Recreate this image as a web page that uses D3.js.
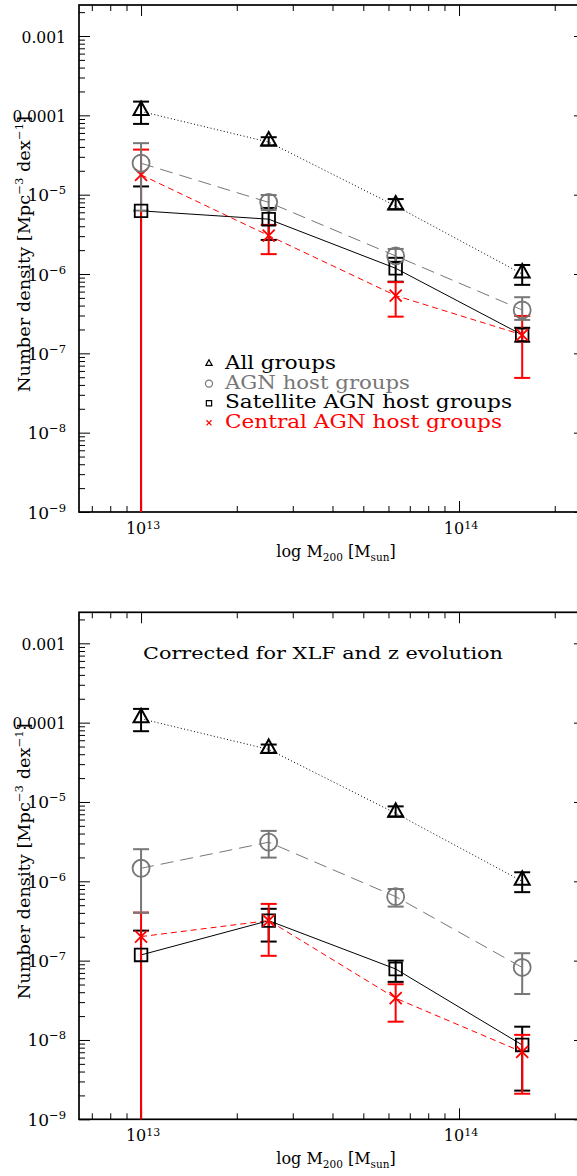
<!DOCTYPE html>
<html>
<head>
<meta charset="utf-8">
<script src="https://cdn.jsdelivr.net/npm/d3@7"></script>
<style>
  body { margin: 0; background: #fff; }
  svg { display: block; }
  text { font-family: "DejaVu Serif", serif; }
</style>
</head>
<body>
<svg id="fig" width="577" height="1176"></svg>
<script>
// ---- data -------------------------------------------------------------
// halo-mass bin centres (M_sun)
const massBins = [1.0e13, 2.52e13, 6.32e13, 1.58e14];

// all groups (same in both panels)
const allGroups   = [1.12e-4, 4.6e-5, 7.2e-6, 1.0e-6];
const allGroupsLo = [7.8e-5, 4.16e-5, 6.56e-6, 7.3e-7];
const allGroupsHi = [1.49e-4, 5.3e-5, 8.8e-6, 1.30e-6];

// upper panel: observed number densities (0 = error reaches the floor)
const agnHost     = [2.49e-5, 8.0e-6, 1.69e-6, 3.52e-7];
const agnHostLo   = [6.3e-6, 6.4e-6, 1.43e-6, 2.64e-7];
const agnHostHi   = [4.46e-5, 9.9e-6, 2.07e-6, 5.1e-7];
const satHost     = [6.25e-6, 4.91e-6, 1.18e-6, 1.71e-7];
const satHostLo   = [0, 2.69e-6, 8.0e-7, 1.4e-7];
const satHostHi   = [1.27e-5, 6.8e-6, 1.6e-6, 2.1e-7];
const cenHost     = [1.78e-5, 3.05e-6, 5.35e-7, 1.71e-7];
const cenHostLo   = [0, 1.78e-6, 2.9e-7, 4.9e-8];
const cenHostHi   = [3.7e-5, 4.16e-6, 7.9e-7, 2.96e-7];

// lower panel: corrected for XLF and z evolution
const agnHostCorr   = [1.46e-6, 3.11e-6, 6.41e-7, 8.2e-8];
const agnHostCorrLo = [4.03e-7, 1.99e-6, 4.8e-7, 3.8e-8];
const agnHostCorrHi = [2.54e-6, 4.32e-6, 8.0e-7, 1.24e-7];
const satHostCorr   = [1.18e-7, 3.19e-7, 7.85e-8, 8.65e-9];
const satHostCorrLo = [0, 1.74e-7, 5.4e-8, 2.3e-9];
const satHostCorrHi = [2.39e-7, 4.5e-7, 1.0e-7, 1.47e-8];
const cenHostCorr   = [2.01e-7, 3.2e-7, 3.36e-8, 7.06e-9];
const cenHostCorrLo = [0, 1.15e-7, 1.70e-8, 2.1e-9];
const cenHostCorrHi = [4.03e-7, 5.19e-7, 5.04e-8, 1.16e-8];

// axes
const xDomain = [6.38e12, 2.49e14];
const yDomain = [1e-9, 2.46e-3];
const xTickValues = [1e13, 1e14];
const xTickText   = ["10^13", "10^14"];
const yTickValues = [1e-3, 1e-4, 1e-5, 1e-6, 1e-7, 1e-8, 1e-9];
const yTickText   = ["0.001", "0.0001", "10^−5", "10^−6", "10^−7", "10^−8", "10^−9"];

const legendNames = ["All groups", "AGN host groups", "Satellite AGN host groups", "Central AGN host groups"];
const legendWidths = [111, 185, 287, 277];

// ---- styles -----------------------------------------------------------
const GRAY = "#777777", RED = "#ff0000", BLACK = "#000000";
const styles = {
  all: { color: BLACK, dash: "1,2.4", sym: "tri" },
  agn: { color: GRAY,  dash: "13,7",  sym: "circ" },
  sat: { color: BLACK, dash: null,    sym: "sq" },
  cen: { color: RED,   dash: "6,4",   sym: "x" }
};

const svg = d3.select("#fig");
const frame = { left: 79, right: 585, top: 5, bottom: 512 };

function symbolPath(sym, s) {
  if (sym === "tri") return `M0,${-10*s}L${7.5*s},${3.5*s}L${-7.5*s},${3.5*s}Z`;
  if (sym === "sq")  return `M${-6.3*s},${-6.3*s}h${12.6*s}v${12.6*s}h${-12.6*s}Z`;
  if (sym === "x")   return `M${-6*s},${-6*s}L${6*s},${6*s}M${6*s},${-6*s}L${-6*s},${6*s}`;
  return null;
}

function drawMarker(g, sym, color, cx, cy, s, sw) {
  if (sym === "circ") {
    g.append("circle").attr("cx", cx).attr("cy", cy).attr("r", 8.5 * s)
      .attr("fill", "none").attr("stroke", color).attr("stroke-width", sw);
  } else {
    g.append("path").attr("d", symbolPath(sym, s))
      .attr("transform", `translate(${cx},${cy})`)
      .attr("fill", "none").attr("stroke", color).attr("stroke-width", sw)
      .attr("stroke-linejoin", "miter");
  }
}

function supText(sel, str, baseSize, supSize, shift) {
  const parts = str.split("^");
  sel.append("tspan").attr("font-size", baseSize).text(parts[0]);
  if (parts[1]) sel.append("tspan").attr("font-size", supSize).attr("dy", -shift).text(parts[1]);
}

function drawPanel(shift, series, note, legend) {
  const g = svg.append("g").attr("transform", `translate(0,${shift})`);
  const x = d3.scaleLog().domain(xDomain).range([frame.left, frame.right]);
  const y = d3.scaleLog().domain(yDomain).range([frame.bottom, frame.top]);
  const yPos = v => (v > 0 ? y(v) : frame.bottom);

  // tick marks on all four sides, pointing inward
  const xMinor = x.ticks().filter(v => !xTickValues.some(m => Math.abs(v / m - 1) < 1e-6));
  const yMinor = y.ticks().filter(v => !yTickValues.some(m => Math.abs(v / m - 1) < 1e-6));
  const axes = [
    [d3.axisBottom(x), `translate(0,${frame.bottom})`, xTickValues, xMinor],
    [d3.axisTop(x),    `translate(0,${frame.top})`,    xTickValues, xMinor],
    [d3.axisLeft(y),   `translate(${frame.left},0)`,   yTickValues, yMinor],
    [d3.axisRight(y),  `translate(${frame.right},0)`,  yTickValues, yMinor]
  ];
  axes.forEach(([ax, tr, major, minor]) => {
    [[major, -11], [minor, -6]].forEach(([vals, len]) => {
      g.append("g").attr("transform", tr)
        .call(ax.tickValues(vals).tickSizeInner(len).tickSizeOuter(0).tickFormat(""))
        .call(a => a.select(".domain").remove())
        .selectAll("line").attr("stroke", BLACK).attr("stroke-width", 1);
    });
  });

  // frame
  g.append("rect").attr("x", frame.left).attr("y", frame.top)
    .attr("width", frame.right - frame.left).attr("height", frame.bottom - frame.top)
    .attr("fill", "none").attr("stroke", BLACK).attr("stroke-width", 1.7);

  // tick labels
  yTickValues.forEach((v, i) => {
    const t = g.append("text").attr("x", 66).attr("y", y(v) + 6.5)
      .attr("text-anchor", "end").attr("fill", BLACK);
    if (yTickText[i].includes("^")) {
      supText(t, yTickText[i], 17, 11.5, 7);
    } else {
      t.attr("font-size", 17).attr("textLength", yTickText[i].length * 9.1 - 1)
        .attr("lengthAdjust", "spacingAndGlyphs").text(yTickText[i]);
    }
  });
  xTickValues.forEach((v, i) => {
    const t = g.append("text").attr("x", x(v) + 2).attr("y", frame.bottom + 22)
      .attr("text-anchor", "middle").attr("fill", BLACK);
    supText(t, xTickText[i], 16, 11, 5.5);
  });

  // axis titles
  const xt = g.append("text").attr("x", 336).attr("y", frame.bottom + 45)
    .attr("text-anchor", "middle").attr("font-size", 16).attr("fill", BLACK);
  xt.append("tspan").text("log  M");
  xt.append("tspan").attr("font-size", 10.5).attr("dy", 4).text("200");
  xt.append("tspan").attr("dy", -4).text("  [M");
  xt.append("tspan").attr("font-size", 10.5).attr("dy", 4).text("sun");
  xt.append("tspan").attr("dy", -4).text("]");

  const yt = g.append("text").attr("transform", "translate(30,254) rotate(-90)")
    .attr("text-anchor", "middle").attr("font-size", 16).attr("fill", BLACK)
    .attr("textLength", 276).attr("lengthAdjust", "spacingAndGlyphs");
  yt.append("tspan").text("Number density [Mpc");
  yt.append("tspan").attr("font-size", 10.5).attr("dy", -7).text("−3");
  yt.append("tspan").attr("dy", 7).text(" dex");
  yt.append("tspan").attr("font-size", 10.5).attr("dy", -7).text("−1");
  yt.append("tspan").attr("dy", 7).text("]");

  // connecting lines
  const line = d3.line().x(d => x(d[0])).y(d => y(d[1]));
  series.forEach(s => {
    const st = styles[s.key];
    g.append("path").datum(massBins.map((m, i) => [m, s.v[i]]))
      .attr("d", line).attr("fill", "none").attr("stroke", st.color)
      .attr("stroke-width", 1).attr("stroke-dasharray", st.dash);
  });

  // error bars
  ["all", "sat", "cen", "agn"].map(k => series.find(s => s.key === k)).forEach(s => {
    const col = styles[s.key].color;
    const eg = g.append("g").attr("stroke", col).attr("stroke-width", 2).attr("fill", "none");
    massBins.forEach((m, i) => {
      const cx = x(m), y0 = yPos(s.lo[i]), y1 = y(s.hi[i]);
      eg.append("line").attr("x1", cx).attr("x2", cx).attr("y1", y0).attr("y2", y1);
      eg.append("line").attr("x1", cx - 8).attr("x2", cx + 8).attr("y1", y1).attr("y2", y1);
      if (s.lo[i] > 0)
        eg.append("line").attr("x1", cx - 8).attr("x2", cx + 8).attr("y1", y0).attr("y2", y0);
    });
  });

  // markers
  ["all", "sat", "cen", "agn"].forEach(k => {
    const s = series.find(d => d.key === k);
    const st = styles[k];
    massBins.forEach((m, i) => drawMarker(g, st.sym, st.color, x(m), y(s.v[i]), 1, k === "all" ? 2 : 1.8));
  });

  if (legend) {
    ["all", "agn", "sat", "cen"].forEach((k, i) => {
      const st = styles[k];
      const by = 369 + i * 19.6;
      drawMarker(g, st.sym, st.color, 209, by - 5, 0.42, 1.2);
      g.append("text").attr("x", 225).attr("y", by).attr("font-size", 18)
        .attr("fill", k === "agn" ? GRAY : st.color)
        .attr("textLength", legendWidths[i]).attr("lengthAdjust", "spacingAndGlyphs")
        .text(legendNames[i]);
    });
  }
  if (note) {
    g.append("text").attr("x", 143).attr("y", 52).attr("font-size", 17)
      .attr("fill", BLACK).attr("textLength", 360).attr("lengthAdjust", "spacingAndGlyphs")
      .text(note);
  }
}

drawPanel(0, [
  { key: "all", v: allGroups, lo: allGroupsLo, hi: allGroupsHi },
  { key: "agn", v: agnHost, lo: agnHostLo, hi: agnHostHi },
  { key: "sat", v: satHost, lo: satHostLo, hi: satHostHi },
  { key: "cen", v: cenHost, lo: cenHostLo, hi: cenHostHi }
], null, true);

drawPanel(607.3, [
  { key: "all", v: allGroups, lo: allGroupsLo, hi: allGroupsHi },
  { key: "agn", v: agnHostCorr, lo: agnHostCorrLo, hi: agnHostCorrHi },
  { key: "sat", v: satHostCorr, lo: satHostCorrLo, hi: satHostCorrHi },
  { key: "cen", v: cenHostCorr, lo: cenHostCorrLo, hi: cenHostCorrHi }
], "Corrected for XLF and z evolution", false);
</script>
</body>
</html>
